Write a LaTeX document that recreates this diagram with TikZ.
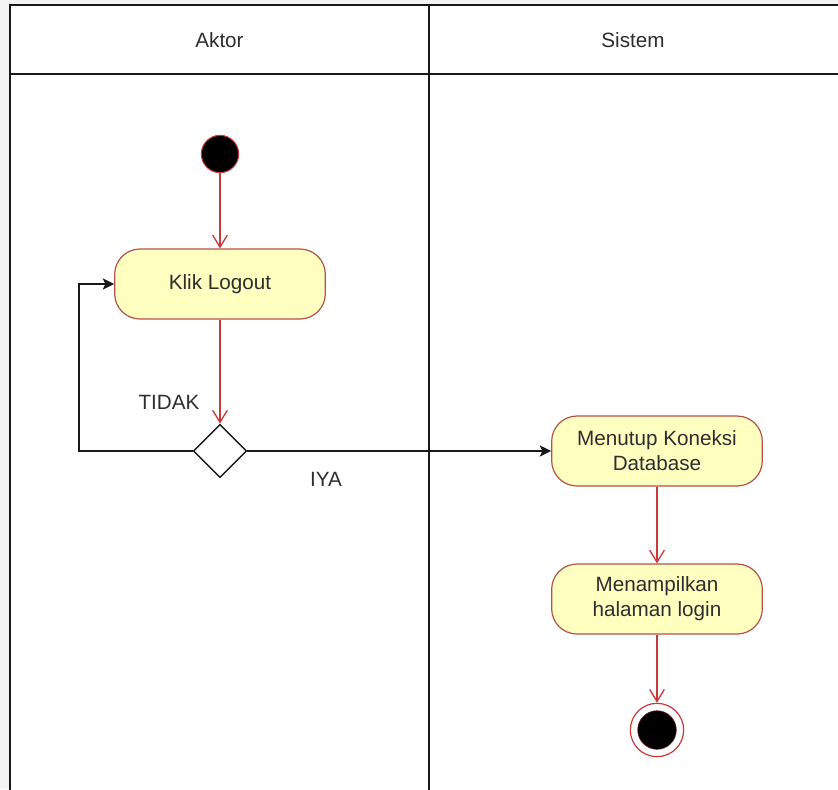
\documentclass[tikz,border=0pt]{standalone}
\usepackage{fontspec}
\setmainfont{Liberation Sans}
\usetikzlibrary{arrows.meta,shapes.geometric}

\definecolor{pagegrey}{HTML}{F3F3F3}
\definecolor{actfill}{HTML}{FFFFC0}
\definecolor{actline}{HTML}{B5504A}
\definecolor{flowred}{HTML}{C83A3A}
\definecolor{textgrey}{HTML}{2E2E2E}

\tikzset{
  lane/.style={draw=black!90, line width=1.2pt},
  activity/.style={draw=actline, fill=actfill, line width=0.9pt,
    rounded corners=19pt, minimum width=158pt, minimum height=52.5pt,
    align=center, text=textgrey, inner sep=2pt},
  startnode/.style={circle, draw=flowred, fill=black, line width=0.8pt,
    minimum size=28pt, inner sep=0pt},
  endring/.style={circle, draw=flowred, fill=white, line width=0.9pt,
    minimum size=40pt, inner sep=0pt},
  enddot/.style={circle, fill=black, draw=flowred!60!black, line width=0.4pt,
    minimum size=29pt, inner sep=0pt},
  decision/.style={diamond, draw=black!90, fill=white, line width=1.1pt,
    minimum width=40pt, minimum height=40pt, inner sep=0pt, aspect=1},
  flow/.style={draw=flowred, line width=1pt,
    -{Straight Barb[length=9pt,width=11pt,line width=1pt]}},
  conn/.style={draw=black!90, line width=1.1pt,
    -{Stealth[length=8.5pt,width=8.5pt,inset=2pt]}},
  lbl/.style={text=textgrey},
}

\begin{document}
\begin{tikzpicture}[x=0.75pt,y=-0.75pt,
    font=\fontsize{15.5}{18.6}\selectfont]
  \useasboundingbox (0,0) rectangle (838,789);
  \clip (0,0) rectangle (838,789);

  % page and swimlane frame
  \fill[pagegrey] (0,0) rectangle (838,789);
  \fill[white] (10,5) rectangle (850,800);
  \draw[lane] (10,800) -- (10,5) -- (850,5);
  \draw[lane] (10,74) -- (850,74);
  \draw[lane] (429,5) -- (429,800);

  % lane headers
  \node[lbl] (aktor) at (219.5,40) {Aktor};
  \node[lbl] (sistem) at (633,40) {Sistem};

  % activity nodes
  \node[startnode] (start) at (220,154) {};
  \node[activity] (klik) at (220,284) {Klik Logout};
  \node[decision] (dec) at (220,451) {};
  \node[activity] (tutup) at (657,451) {Menutup Koneksi\\Database};
  \node[activity] (tampil) at (657,599) {Menampilkan\\halaman login};
  \node[endring] (end) at (657,730) {};
  \node[enddot] (enddot) at (end.center) {};

  \coordinate (loopcorner) at (79,451);

  % transitions
  \draw[flow] (start) -- (klik);
  \draw[flow] (klik) -- (dec);
  \draw[conn] (dec.west) -- (loopcorner) |- (klik.west);
  \draw[conn] (dec.east) -- (tutup.west);
  \draw[flow] (tutup) -- (tampil);
  \draw[flow] (tampil) -- (end);

  % guard labels
  \node[lbl] (tidak) at (169,402) {TIDAK};
  \node[lbl] (iya) at (326,479) {IYA};
\end{tikzpicture}
\end{document}
